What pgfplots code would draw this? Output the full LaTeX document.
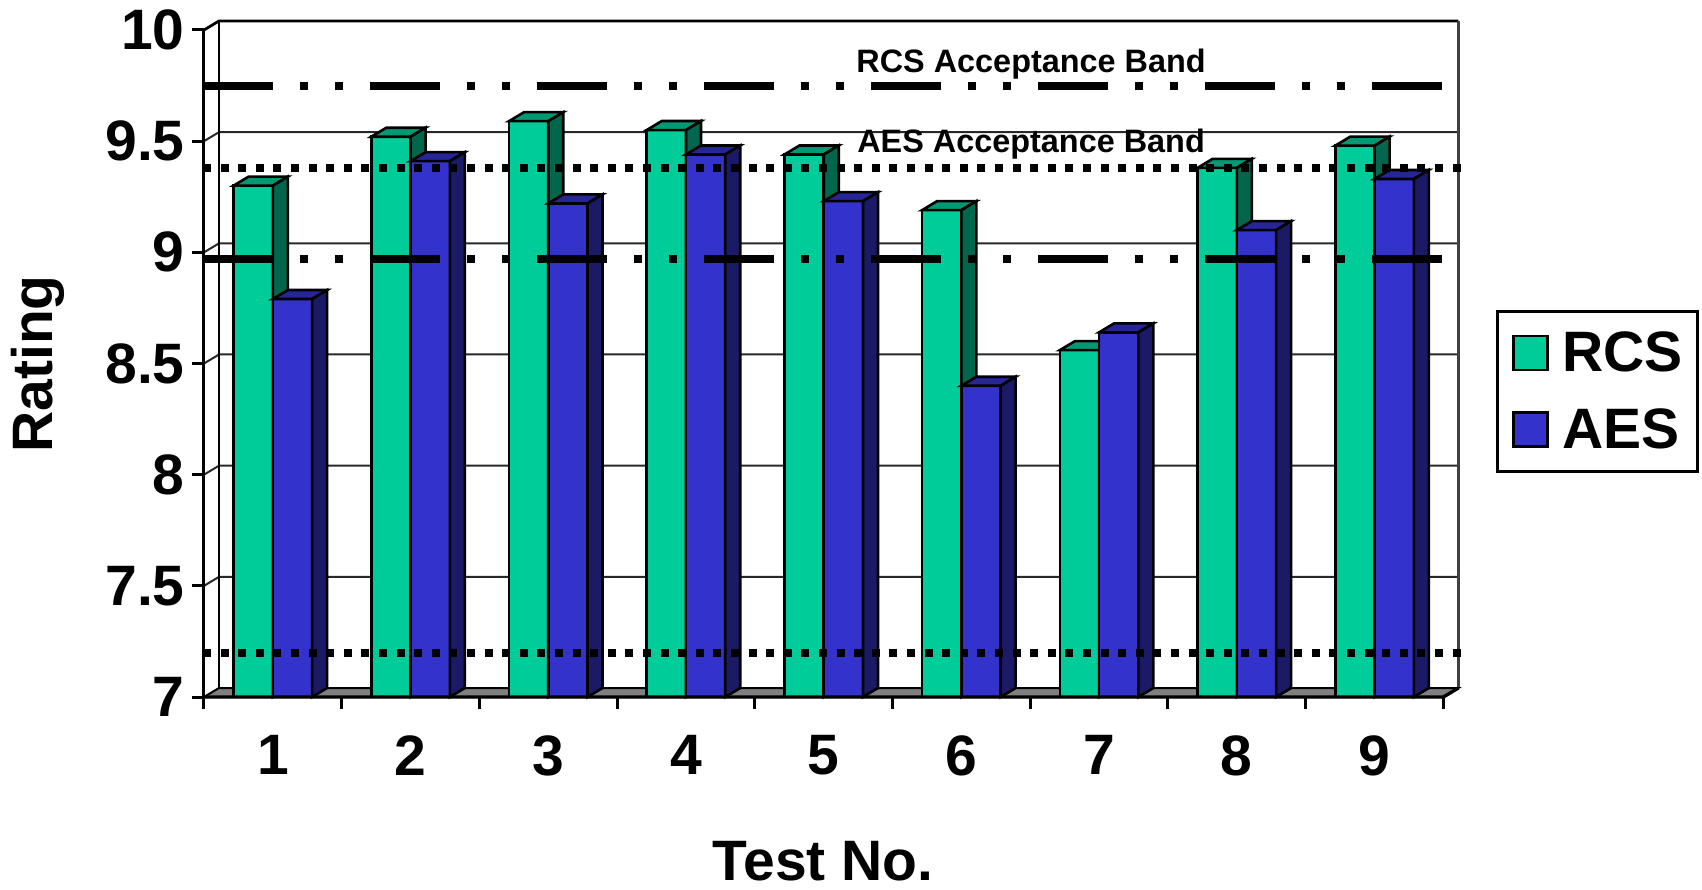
\documentclass[border=0pt]{standalone}
\usepackage{pgfplots}
\pgfplotsset{compat=1.18}
\usepackage{pgfplotstable}
\usepackage{fontspec}
\setmainfont{Liberation Sans}

\definecolor{rcsfront}{RGB}{0,204,153}
\definecolor{rcstop}{RGB}{0,153,115}
\definecolor{rcsside}{RGB}{0,102,76}
\definecolor{aesfront}{RGB}{51,51,204}
\definecolor{aestop}{RGB}{38,38,153}
\definecolor{aesside}{RGB}{26,26,102}
\definecolor{floorgray}{RGB}{128,128,128}
\definecolor{gridc}{RGB}{40,40,40}

\newcommand\bigfont{\bfseries\fontsize{28.5}{33}\selectfont}
\newcommand\barw{0.285}
\newcommand\dxu{0.109}
\newcommand\dyu{0.0405}

\pgfplotstableread{
test rcs  aes
1    9.30 8.79
2    9.52 9.41
3    9.59 9.22
4    9.55 9.44
5    9.44 9.23
6    9.19 8.40
7    8.56 8.64
8    9.38 9.10
9    9.48 9.33
}\ratings

% one pseudo-3D column: #1 left x, #2 value, #3 front, #4 top, #5 side colour
\newcommand{\barthreed}[5]{%
  \pgfmathsetmacro\bxl{#1}%
  \pgfmathsetmacro\bxr{#1+\barw}%
  \pgfmathsetmacro\bxlb{#1+\dxu}%
  \pgfmathsetmacro\bxrb{#1+\barw+\dxu}%
  \pgfmathsetmacro\bvt{#2}%
  \pgfmathsetmacro\bvb{#2+\dyu}%
  \pgfmathsetmacro\bfb{7+\dyu}%
  \addplot[fill=#3, draw=black, line width=1.3pt] coordinates {(\bxl,7) (\bxl,\bvt) (\bxr,\bvt) (\bxr,7)} -- cycle;
  \addplot[fill=#4, draw=black, line width=1.3pt] coordinates {(\bxl,\bvt) (\bxlb,\bvb) (\bxrb,\bvb) (\bxr,\bvt)} -- cycle;
  \addplot[fill=#5, draw=black, line width=1.3pt] coordinates {(\bxr,7) (\bxr,\bvt) (\bxrb,\bvb) (\bxrb,\bfb)} -- cycle;
}

\pgfplotsset{
  sqlegend/.style={legend image code/.code={\draw[##1,line width=1.2pt] (0pt,-8.5pt) rectangle (17pt,8.5pt);}},
}

\begin{document}
\begin{tikzpicture}
\useasboundingbox (-102pt,-96pt) rectangle (749pt,348.5pt);
\begin{axis}[
  scale only axis, width=627.2pt, height=338pt,
  xmin=0.5, xmax=9.609, ymin=7, ymax=10.0405,
  axis lines=left, axis line style={draw=none,-},
  major tick length=0pt, tick style={draw=none},
  xtick={1,2,3,4,5,6,7,8,9}, xticklabels={1,2,3,4,5,6,7,8,9},
  ytick={7,7.5,8,8.5,9,9.5,10}, yticklabels={7,7.5,8,8.5,9,9.5,10},
  ticklabel style={font=\bigfont, inner sep=0pt},
  xticklabel style={anchor=north, yshift=-19pt},
  yticklabel style={anchor=east, xshift=-9.5pt},
  xlabel={Test No.}, ylabel={Rating},
  xlabel style={at={(0.4935,-0.2707)}, anchor=base, font=\bigfont, inner sep=0pt},
  ylabel style={at={(-0.1204,0.4926)}, anchor=base, font=\bigfont, inner sep=0pt},
  clip=false,
  sqlegend,
  legend style={at={(1.1918,0.5725)}, anchor=north east, draw=black, line width=1.5pt,
    font=\bigfont, inner xsep=7.5pt, inner ysep=10pt, row sep=17pt, column sep=6.7pt,
    nodes={inner sep=0pt}, cells={anchor=west}},
]
\addlegendimage{fill=rcsfront, draw=black}
\addlegendentry{RCS}
\addlegendimage{fill=aesfront, draw=black}
\addlegendentry{AES}

% back wall, side-wall gridlines, floor
\draw[gridc, line width=1pt] (axis cs:0.5,7.5) -- (axis cs:0.609,7.5405) -- (axis cs:9.609,7.5405);
\draw[gridc, line width=1pt] (axis cs:0.5,8) -- (axis cs:0.609,8.0405) -- (axis cs:9.609,8.0405);
\draw[gridc, line width=1pt] (axis cs:0.5,8.5) -- (axis cs:0.609,8.5405) -- (axis cs:9.609,8.5405);
\draw[gridc, line width=1pt] (axis cs:0.5,9) -- (axis cs:0.609,9.0405) -- (axis cs:9.609,9.0405);
\draw[gridc, line width=1pt] (axis cs:0.5,9.5) -- (axis cs:0.609,9.5405) -- (axis cs:9.609,9.5405);
\draw[black, line width=1.4pt] (axis cs:0.5,10) -- (axis cs:0.609,10.0405) -- (axis cs:9.609,10.0405);
\draw[black, line width=1pt] (axis cs:0.609,7.0405) -- (axis cs:0.609,10.0405);
\draw[black!75, line width=1.5pt] (axis cs:9.609,7.0405) -- (axis cs:9.609,10.0405);
\filldraw[fill=floorgray, draw=black, line width=1pt] (axis cs:0.5,7) -- (axis cs:0.609,7.0405) -- (axis cs:9.609,7.0405) -- (axis cs:9.5,7) -- cycle;

% columns
\pgfplotsinvokeforeach{0,...,8}{%
  \pgfplotstablegetelem{#1}{rcs}\of\ratings \let\vrcs\pgfplotsretval
  \pgfplotstablegetelem{#1}{aes}\of\ratings \let\vaes\pgfplotsretval
  \pgfmathsetmacro\xc{#1+1}%
  \barthreed{\xc-\barw}{\vrcs}{rcsfront}{rcstop}{rcsside}
  \barthreed{\xc}{\vaes}{aesfront}{aestop}{aesside}
}

% axis lines and ticks
\draw[line width=1.5pt] (axis cs:0.5,7) -- (axis cs:0.5,10);
\draw[line width=1.7pt] (axis cs:0.5,7) -- (axis cs:9.5,7) -- (axis cs:9.609,7.0405);
\pgfplotsinvokeforeach{7,7.5,8,8.5,9,9.5,10}{\draw[line width=1.5pt] (axis cs:0.5,#1) -- ++(-6pt,0pt);}
\pgfplotsinvokeforeach{0.5,1.5,2.5,3.5,4.5,5.5,6.5,7.5,8.5,9.5}{\draw[line width=1.5pt] (axis cs:#1,7) -- ++(0pt,-6pt);}

% acceptance bands
\addplot[black, line width=4pt, line cap=butt, dash pattern=on 35pt off 13.5pt on 4pt off 13.5pt on 4pt off 13.5pt] coordinates {(0.493,9.75) (9.52,9.75)};
\addplot[black, line width=4pt, line cap=butt, dash pattern=on 35pt off 13.5pt on 4pt off 13.5pt on 4pt off 13.5pt] coordinates {(0.493,8.97) (9.52,8.97)};
\addplot[black, line width=4pt, line cap=butt, dash pattern=on 4pt off 4.8pt] coordinates {(0.493,9.38) (9.643,9.38)};
\addplot[black, line width=4pt, line cap=butt, dash pattern=on 4pt off 4.8pt] coordinates {(0.493,7.2) (9.643,7.2)};

\node[anchor=base, inner sep=0pt, font=\bfseries\fontsize{16.2}{19}\selectfont] at (axis cs:6.506,9.811) {RCS Acceptance Band};
\node[anchor=base, inner sep=0pt, font=\bfseries\fontsize{16.2}{19}\selectfont] at (axis cs:6.506,9.451) {AES Acceptance Band};
\end{axis}
\end{tikzpicture}
\end{document}
